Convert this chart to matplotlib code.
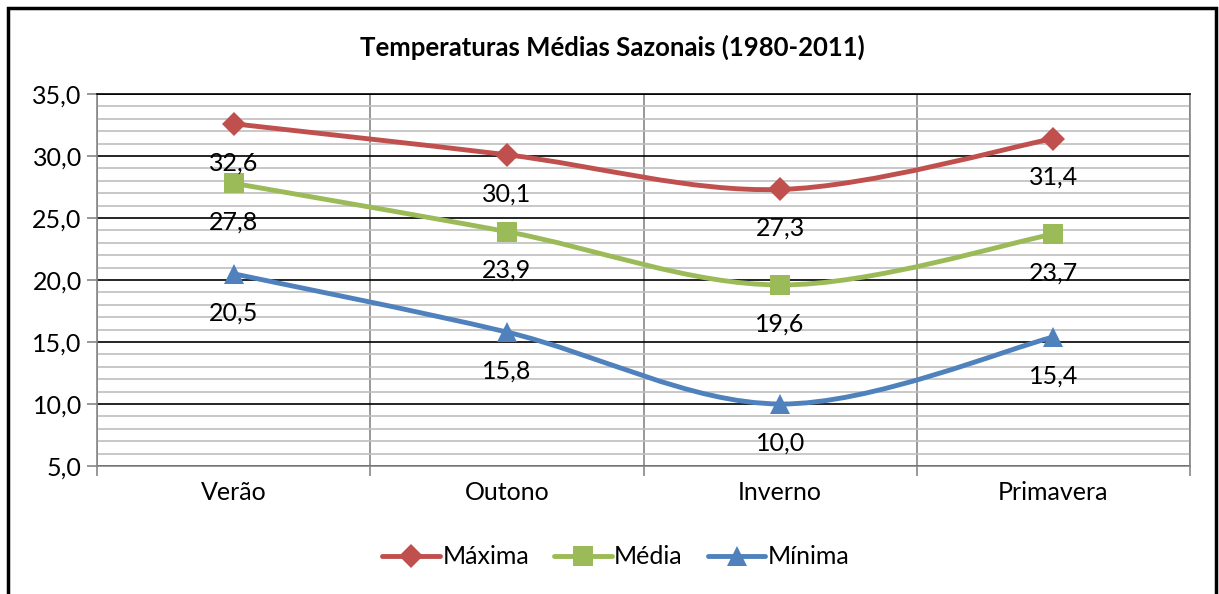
import numpy as np
import matplotlib
matplotlib.use('Agg')
import matplotlib.pyplot as plt
from matplotlib.path import Path
from matplotlib.patches import PathPatch, Rectangle
from matplotlib.lines import Line2D
from matplotlib.ticker import MultipleLocator, FuncFormatter

plt.rcParams['font.family'] = ['Lato', 'DejaVu Sans']

seasons = ['Verão', 'Outono', 'Inverno', 'Primavera']
maxima = [32.6, 30.1, 27.3, 31.4]
media = [27.8, 23.9, 19.6, 23.7]
minima = [20.5, 15.8, 10.0, 15.4]
series_names = ['Máxima', 'Média', 'Mínima']
title = 'Temperaturas Médias Sazonais (1980-2011)'

colors = ['#C0504D', '#9BBB59', '#4F81BD']
markers = ['D', 's', '^']
msizes = [12, 14, 14]


def smooth_path(x, y):
	# excel-style smoothed line: cubic bezier segments, catmull-rom tangents
	pts = np.column_stack([x, y]).astype(float)
	n = len(pts)
	verts = [pts[0]]
	codes = [Path.MOVETO]
	for i in range(n - 1):
		p0 = pts[i - 1] if i > 0 else pts[i]
		p1 = pts[i]
		p2 = pts[i + 1]
		p3 = pts[i + 2] if i + 2 < n else pts[i + 1]
		c1 = p1 + (p2 - p0) / 6
		c2 = p2 - (p3 - p1) / 6
		verts += [c1, c2, p2]
		codes += [Path.CURVE4] * 3
	return Path(verts, codes)


fig = plt.figure(figsize=(12.19, 5.94), dpi=100)
ax = fig.add_axes([97 / 1219, 1 - 466 / 594, 1093 / 1219, 372 / 594])

xs = np.arange(len(seasons))
handles = []
for vals, name, c, m, ms in zip([maxima, media, minima], series_names, colors, markers, msizes):
	patch = PathPatch(smooth_path(xs, vals), facecolor='none', edgecolor=c,
		lw=3.5, capstyle='round', joinstyle='round', zorder=3)
	ax.add_patch(patch)
	ax.plot(xs, vals, linestyle='none', marker=m, color=c, markersize=ms,
		markeredgewidth=0, zorder=4)
	for xv, yv in zip(xs, vals):
		ax.annotate(f'{yv:.1f}'.replace('.', ','), (xv, yv), xytext=(0, -28),
			textcoords='offset points', ha='center', va='center',
			fontsize=18, color='black', zorder=5)
	handles.append(Line2D([], [], color=c, lw=3.5, marker=m, markersize=ms,
		markeredgewidth=0, solid_capstyle='round'))

ax.set_xlim(-0.5, 3.5)
ax.set_ylim(5, 35)
ax.set_xticks(xs)
ax.set_xticklabels(seasons, fontsize=18)
ax.set_xticks(np.arange(-0.5, 4, 1), minor=True)
ax.tick_params(axis='x', which='major', length=0, pad=11)
ax.tick_params(axis='x', which='minor', length=7, color='#868686', width=1.2)

ax.yaxis.set_major_locator(MultipleLocator(5))
ax.yaxis.set_minor_locator(MultipleLocator(1))
ax.yaxis.set_major_formatter(FuncFormatter(lambda v, p: f'{v:.1f}'.replace('.', ',')))
ax.tick_params(axis='y', which='major', length=7, color='#868686', width=1.2,
	labelsize=18, pad=4)
ax.tick_params(axis='y', which='minor', length=0)

ax.grid(axis='y', which='minor', color='#BFBFBF', lw=1.2)
ax.grid(axis='y', which='major', color='black', lw=1.2)
ax.grid(axis='x', which='minor', color='#868686', lw=1.2)
ax.set_axisbelow(True)

for side in ['left', 'bottom', 'right']:
	ax.spines[side].set_color('#868686')
	ax.spines[side].set_linewidth(1.2)
ax.spines['top'].set_color('black')
ax.spines['top'].set_linewidth(1.2)

fig.text(612 / 1219, 1 - 47 / 594, title, ha='center', va='center',
	fontsize=18.5, fontweight='bold')

fig.legend(handles, series_names, loc='center', bbox_to_anchor=(616 / 1219, 1 - 557 / 594),
	ncol=3, frameon=False, fontsize=18, handlelength=2.3, handletextpad=0.1,
	columnspacing=1.0)

fig.patches.append(Rectangle((8 / 1219, -0.02), 1208 / 1219, 1 - 8 / 594 + 0.02,
	transform=fig.transFigure, fill=False, edgecolor='black', lw=2.5))

fig.savefig('out.png', dpi=100)
